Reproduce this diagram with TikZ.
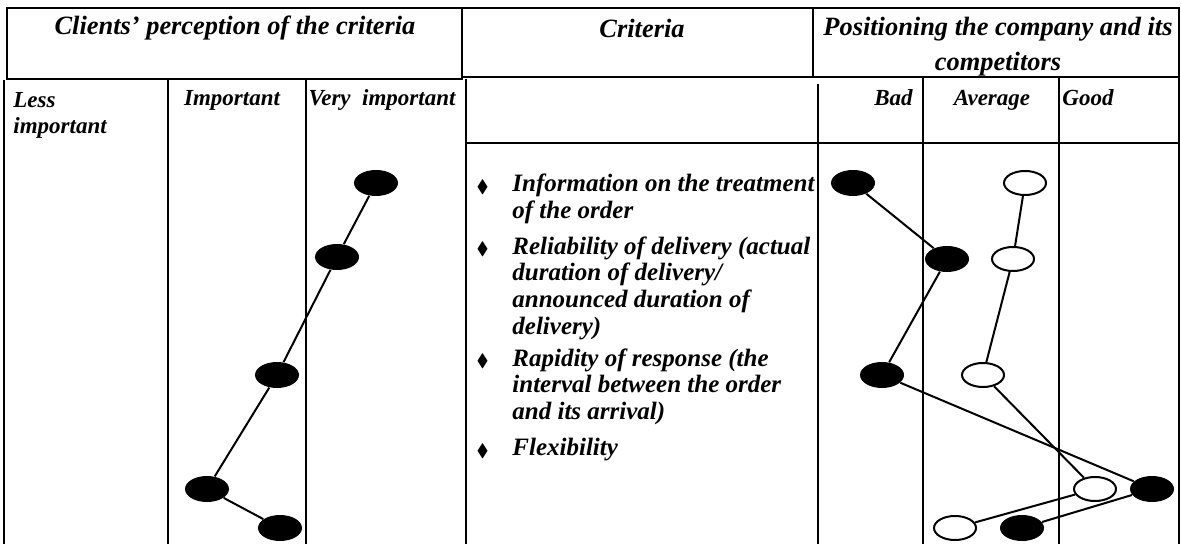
\documentclass[tikz,border=0pt]{standalone}
\usepackage{amssymb}
\usepackage{fontspec}
\setmainfont{Liberation Serif}
\usetikzlibrary{shapes, positioning}
\tikzstyle{frame}=[line width=1.3pt]
\tikzstyle{rule}=[line width=0.9pt]
\tikzstyle{bad}=[ellipse, fill=black, inner sep=0pt, minimum width=22pt, minimum height=13pt]
\tikzstyle{good}=[ellipse, draw, line width=1pt, fill=white, inner sep=0pt, minimum width=21pt, minimum height=12pt]
\tikzstyle{head}=[inner sep=0pt, align=center, font=\bfseries\itshape\fontsize{13.2}{17.5}\selectfont]
\tikzstyle{sub}=[inner sep=0pt, anchor=base, align=left, font=\bfseries\itshape\fontsize{11.5}{13}\selectfont]
\tikzstyle{item}=[inner sep=0pt, anchor=north west, align=left, font=\bfseries\itshape\fontsize{12.5}{13.4}\selectfont, label={[inner sep=0pt, xshift=-11.5pt, yshift=-10.5pt, font=\small]north west:$\blacklozenge$}]

\begin{document}
\begin{tikzpicture}[x=0.5pt, y=-0.5pt]
\useasboundingbox (0,0) rectangle (1181,544);
% table
\draw[frame] (7,8) rectangle (462,79);
\draw[frame] (462,8) rectangle (813,77);
\draw[frame] (813,8) rectangle (1179,77);
\draw[frame] (4,80) -- (4,544);
\draw[rule] (168,80) -- (168,544) (306,80) -- (306,544);
\draw[frame] (466,79) -- (466,544) (818,84) -- (818,544) (1179,77) -- (1179,544);
\draw[rule] (923,78) -- (923,544) (1059,78) -- (1059,544);
\draw[frame] (466,143) -- (1179,143);
% headings
\node[head] (h1) at (235,28) {Clients' perception of the criteria};
\node[head] (h2) at (642,28) {Criteria};
\node[head] (h3) at (998,47) {Positioning the company and its\\competitors};
\node[sub, anchor=north west] (s1) at (13,92) {Less\\important};
\node[sub] (s2) at (232,106) {Important};
\node[sub] (s3) at (382,106) {Very\ \ important};
\node[sub, anchor=base east] (s4) at (913,106) {Bad};
\node[sub] (s5) at (992,106) {Average};
\node[sub, anchor=base west] (s6) at (1062,106) {Good};
% criteria
\node[item] (c1) at (512,174) {Information on the treatment\\of the order};
\node[item] (c2) at (512,236) {Reliability of delivery (actual\\duration of delivery/\\announced duration of\\delivery)};
\node[item] (c3) at (512,348) {Rapidity of response (the\\interval between the order\\and its arrival)};
\node[item] (c4) at (512,438) {Flexibility};
% clients
\node[bad] (p1) at (376,183){}; \node[bad] (p2) at (337,257){};
\node[bad] (p3) at (277,375){}; \node[bad] (p4) at (207,489){};
\node[bad] (p5) at (280,528){};
% company and competitors
\node[bad] (k1) at (853,183){}; \node[bad] (k2) at (947,259){};
\node[bad] (k3) at (882,375){}; \node[bad] (k4) at (1152,489){};
\node[bad] (k5) at (1022,528){};
\node[good] (r1) at (1025,183){}; \node[good] (r2) at (1013,259){};
\node[good] (r3) at (983,375){}; \node[good] (r4) at (1095,489){};
\node[good] (r5) at (955,528){};
\draw[line width=1pt] (p1)--(p2)--(p3)--(p4)--(p5);
\draw[line width=1pt] (k1)--(k2)--(k3)--(k4)--(k5);
\draw[line width=1pt] (r1)--(r2)--(r3)--(r4)--(r5);
\end{tikzpicture}
\end{document}
